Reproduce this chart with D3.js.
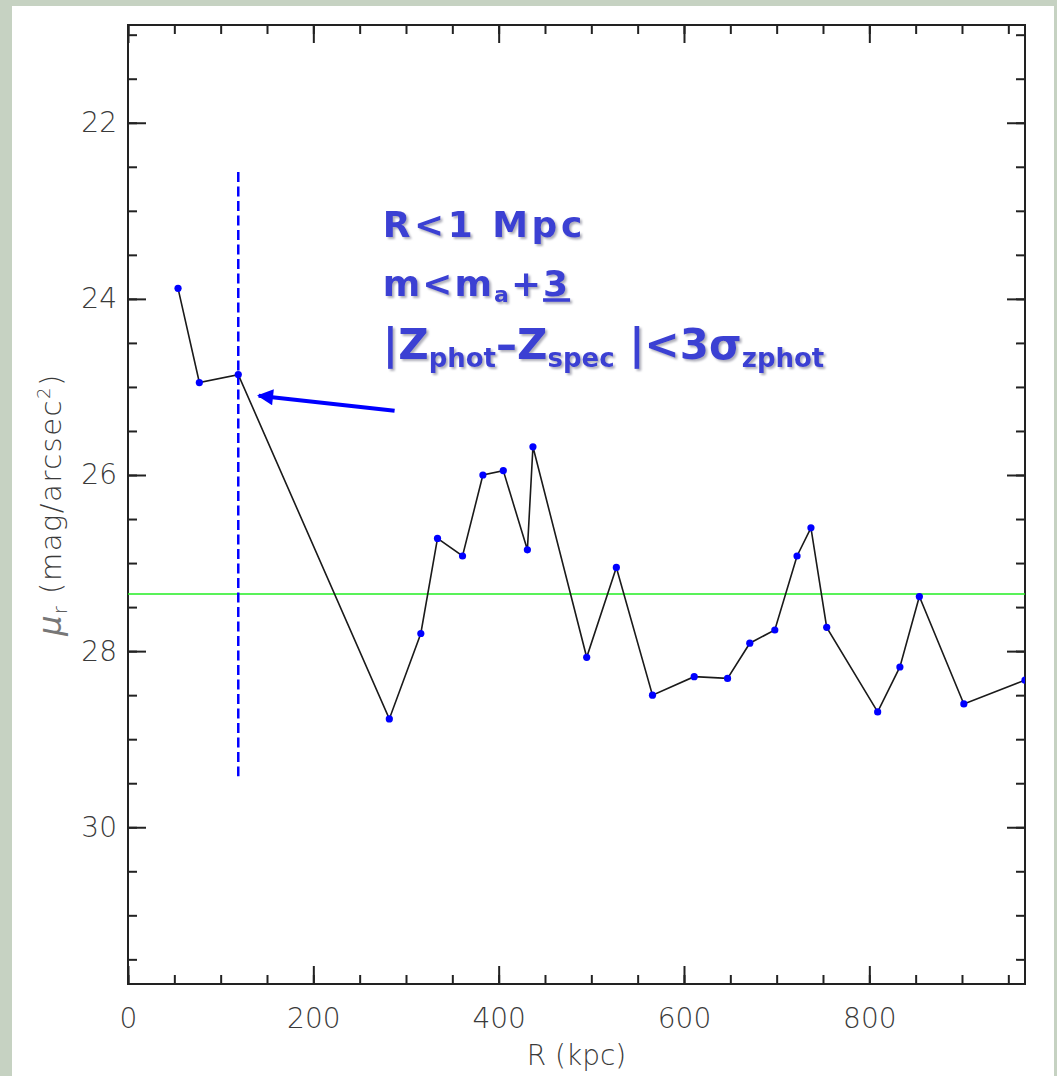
<!DOCTYPE html>
<html>
<head>
<meta charset="utf-8">
<script src="https://cdn.jsdelivr.net/npm/d3@7"></script>
<style>
  html, body { margin: 0; padding: 0; background: #c6d2c2; }
  .tick text { font-family: "DejaVu Sans ExtraLight", "DejaVu Sans", sans-serif; font-weight: 200; fill: #3a3a3a; }
  .note { font-family: "DejaVu Sans", sans-serif; font-weight: bold; fill: #3b3fd3; }
</style>
</head>
<body>
<div id="chart"></div>
<script>
// radial surface brightness profile
const radius = [54, 77, 119, 282, 316, 334, 361, 383, 405, 431, 437, 495, 527, 566, 611, 647, 671, 698, 722, 737, 754, 809, 833, 854, 902, 968];
const mu = [23.88, 24.95, 24.86, 28.77, 27.80, 26.72, 26.92, 26.00, 25.95, 26.85, 25.68, 28.07, 27.05, 28.50, 28.29, 28.31, 27.91, 27.76, 26.92, 26.60, 27.73, 28.69, 28.18, 27.38, 28.60, 28.33];
const xMajor = [0, 200, 400, 600, 800];
const yMajor = [22, 24, 26, 28, 30];
const background = 27.35;
const cutRadius = 119;
const cutRange = [22.56, 29.42];

const svgWidth = 1057;
const svgHeight = 1076;
const margin = { top: 25, right: 32, bottom: 92, left: 128 };
const width = svgWidth - margin.left - margin.right;
const height = svgHeight - margin.top - margin.bottom;

const svg = d3.select("#chart").append("svg")
    .attr("width", svgWidth)
    .attr("height", svgHeight)
    .style("display", "block");

// white panel
svg.append("rect")
    .attr("x", 12).attr("y", 6)
    .attr("width", 1042).attr("height", svgHeight)
    .attr("fill", "#ffffff");

const defs = svg.append("defs");
defs.append("clipPath").attr("id", "plotclip")
    .append("rect").attr("width", width).attr("height", height);
const shadow = defs.append("filter").attr("id", "shadow")
    .attr("x", "-5%").attr("y", "-20%").attr("width", "110%").attr("height", "140%");
shadow.append("feDropShadow")
    .attr("dx", 2).attr("dy", 2).attr("stdDeviation", 0.8)
    .attr("flood-color", "#9a9aa8").attr("flood-opacity", 0.8);
defs.append("marker").attr("id", "head")
    .attr("viewBox", "0 0 10 10")
    .attr("refX", 9).attr("refY", 5)
    .attr("markerWidth", 4.4).attr("markerHeight", 4)
    .attr("orient", "auto")
    .append("path").attr("d", "M0,0 L10,5 L0,10 Z").attr("fill", "#0000ff");

const chart = svg.append("g")
    .attr("transform", `translate(${margin.left}, ${margin.top})`);

const xScale = d3.scaleLinear().domain([0, 968]).range([0, width]);
const yScale = d3.scaleLinear().domain([20.89, 31.78]).range([0, height]);

const xMinor = d3.range(0, 968, 50);
const yMinor = d3.range(21, 31.8, 0.5);

function styleAxis(g) {
    g.select(".domain").remove();
    g.selectAll(".tick line").attr("stroke", "#222").attr("stroke-width", 2);
}

// minor ticks, all four sides
chart.append("g").attr("transform", `translate(0, ${height})`)
    .call(d3.axisBottom(xScale).tickValues(xMinor).tickSize(-9).tickFormat(""))
    .call(styleAxis);
chart.append("g")
    .call(d3.axisTop(xScale).tickValues(xMinor).tickSize(-9).tickFormat(""))
    .call(styleAxis);
chart.append("g")
    .call(d3.axisLeft(yScale).tickValues(yMinor).tickSize(-9).tickFormat(""))
    .call(styleAxis);
chart.append("g").attr("transform", `translate(${width}, 0)`)
    .call(d3.axisRight(yScale).tickValues(yMinor).tickSize(-9).tickFormat(""))
    .call(styleAxis);

// major ticks with labels
chart.append("g").attr("id", "x-axis").attr("transform", `translate(0, ${height})`)
    .call(d3.axisBottom(xScale).tickValues(xMajor).tickSize(-18).tickPadding(24).tickFormat(d3.format("d")))
    .call(styleAxis)
    .selectAll("text").attr("font-size", 28);
chart.append("g")
    .call(d3.axisTop(xScale).tickValues(xMajor).tickSize(-18).tickFormat(""))
    .call(styleAxis);
chart.append("g").attr("id", "y-axis")
    .call(d3.axisLeft(yScale).tickValues(yMajor).tickSize(-18).tickPadding(11).tickFormat(d3.format("d")))
    .call(styleAxis)
    .selectAll("text").attr("font-size", 28);
chart.append("g").attr("transform", `translate(${width}, 0)`)
    .call(d3.axisRight(yScale).tickValues(yMajor).tickSize(-18).tickFormat(""))
    .call(styleAxis);

// frame
chart.append("rect")
    .attr("width", width).attr("height", height)
    .attr("fill", "none").attr("stroke", "#222").attr("stroke-width", 2);

const plot = chart.append("g").attr("clip-path", "url(#plotclip)");

// background level
plot.append("line")
    .attr("x1", 0).attr("x2", width)
    .attr("y1", yScale(background)).attr("y2", yScale(background))
    .attr("stroke", "#22ee22").attr("stroke-width", 1.5);

// cut radius
plot.append("line")
    .attr("x1", xScale(cutRadius)).attr("x2", xScale(cutRadius))
    .attr("y1", yScale(cutRange[0])).attr("y2", yScale(cutRange[1]))
    .attr("stroke", "#0000ff").attr("stroke-width", 2.5)
    .attr("stroke-dasharray", "10,4.5");

const points = radius.map((r, i) => [r, mu[i]]);
const line = d3.line().x(d => xScale(d[0])).y(d => yScale(d[1]));

plot.append("path")
    .datum(points)
    .attr("d", line)
    .attr("fill", "none")
    .attr("stroke", "#1a1a1a")
    .attr("stroke-width", 1.6);

plot.selectAll(".dot")
    .data(points)
    .enter()
    .append("circle")
    .attr("class", "dot")
    .attr("cx", d => xScale(d[0]))
    .attr("cy", d => yScale(d[1]))
    .attr("r", 3.6)
    .attr("fill", "#0000ff");

// arrow pointing at the cut
chart.append("line")
    .attr("x1", xScale(287.7)).attr("y1", yScale(25.27))
    .attr("x2", xScale(141)).attr("y2", yScale(25.10))
    .attr("stroke", "#0000ff").attr("stroke-width", 4)
    .attr("marker-end", "url(#head)");

// selection notes
const notes = chart.append("g").attr("class", "note").attr("filter", "url(#shadow)");
const nx = xScale(275);

notes.append("text")
    .attr("x", nx).attr("y", yScale(23.30))
    .attr("font-size", 36)
    .attr("letter-spacing", 3.5)
    .text("R<1  Mpc");

const t2 = notes.append("text")
    .attr("x", nx).attr("y", yScale(23.97))
    .attr("font-size", 36)
    .attr("letter-spacing", 2);
t2.append("tspan").text("m<m");
t2.append("tspan").attr("font-size", 22).attr("dy", 6).text("a");
t2.append("tspan").attr("dy", -6).text("+");
t2.append("tspan").attr("text-decoration", "underline").text("3");

const t3 = notes.append("text")
    .attr("x", nx).attr("y", yScale(24.68))
    .attr("font-size", 42);
t3.append("tspan").text("|Z");
t3.append("tspan").attr("font-size", 26).attr("dy", 8).text("phot");
t3.append("tspan").attr("dy", -8).text("–Z");
t3.append("tspan").attr("font-size", 26).attr("dy", 8).text("spec");
t3.append("tspan").attr("dy", -8).text(" |<3σ");
t3.append("tspan").attr("font-size", 26).attr("dy", 8).text("zphot");

// axis titles
svg.append("text")
    .attr("x", margin.left + width / 2)
    .attr("y", 1065)
    .attr("text-anchor", "middle")
    .attr("font-family", "DejaVu Sans ExtraLight, DejaVu Sans, sans-serif")
    .attr("font-weight", 200)
    .attr("font-size", 28)
    .attr("fill", "#3a3a3a")
    .text("R (kpc)");

const yt = svg.append("text")
    .attr("transform", `translate(61, ${margin.top + height / 2}) rotate(-90)`)
    .attr("text-anchor", "middle")
    .attr("font-family", "DejaVu Sans ExtraLight, DejaVu Sans, sans-serif")
    .attr("font-weight", 200)
    .attr("font-size", 29)
    .attr("letter-spacing", 1.5)
    .attr("fill", "#3a3a3a");
yt.append("tspan").attr("font-style", "italic").attr("font-size", 32).attr("fill", "#777").text("μ");
yt.append("tspan").attr("font-size", 19).attr("dy", 6).text("r");
yt.append("tspan").attr("dy", -6).text("  (mag/arcsec");
yt.append("tspan").attr("font-size", 18).attr("dy", -11).text("2");
yt.append("tspan").attr("dy", 11).text(")");
</script>
</body>
</html>
